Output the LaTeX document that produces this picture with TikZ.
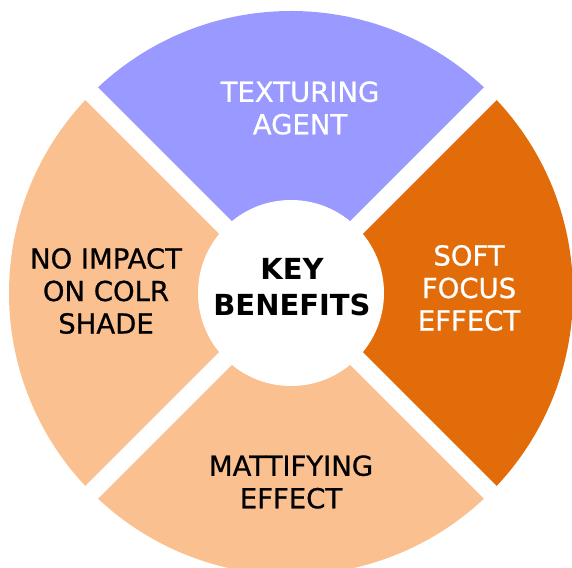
\documentclass[tikz,border=0pt]{standalone}
\usepackage{fontspec}
\setmainfont{DejaVu Sans}
\newfontfamily\heavyfont{DejaVu Sans}[FakeBold=0.8]
\usetikzlibrary{positioning}
\definecolor{lavender}{RGB}{153,153,255}
\definecolor{peach}{RGB}{250,192,144}
\definecolor{burnt}{RGB}{227,108,10}

\begin{document}
\begin{tikzpicture}[x=1pt,y=1pt,
  lbl/.style={align=center, inner sep=0pt, font=\heavyfont\fontsize{27.5}{32.5}\selectfont}]
\useasboundingbox (0,0) rectangle (572,567);
\coordinate (c) at (291,274);

% four sectors
\fill[lavender] (c) -- ++(45:282) arc[start angle=45,end angle=135,radius=282] -- cycle;
\fill[peach] (c) -- ++(135:282) arc[start angle=135,end angle=225,radius=282] -- cycle;
\fill[peach] (c) -- ++(225:282) arc[start angle=225,end angle=315,radius=282] -- cycle;
\fill[burnt] (c) -- ++(315:282) arc[start angle=315,end angle=405,radius=282] -- cycle;

% white gaps and hub
\draw[white, line width=18pt] (c) ++(45:300) -- ++(225:600);
\draw[white, line width=18pt] (c) ++(135:300) -- ++(315:600);
\fill[white] (c) circle[radius=93];

\node[lbl, text=white] (texturing) at (300,459) {TEXTURING\\AGENT};
\node[lbl, text=white] (softfocus) at (469,279) {SOFT\\FOCUS\\EFFECT};
\node[lbl] (noimpact) at (106,276) {NO IMPACT\\ON COLR\\SHADE};
\node[lbl] (mattify) at (291,85) {MATTIFYING\\EFFECT};
\node[lbl, font=\fontsize{29}{36.5}\selectfont\bfseries] (keyben) at (292,280) {KEY\\BENEFITS};
\end{tikzpicture}
\end{document}
